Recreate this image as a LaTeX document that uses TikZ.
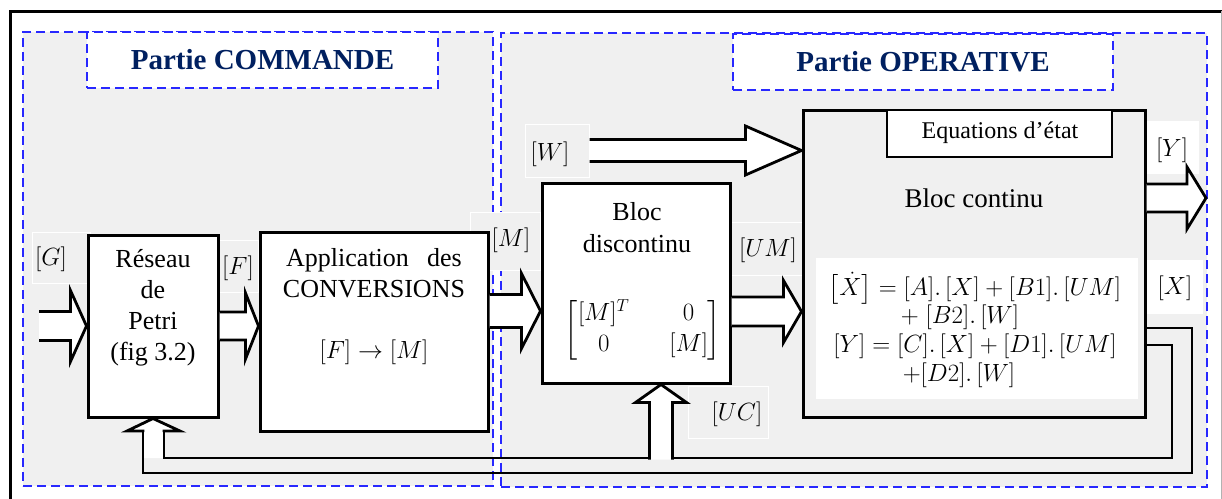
\documentclass[tikz,border=0pt]{standalone}
\usepackage{amsmath}
\usepackage{fontspec}
\setmainfont{Liberation Serif}
\newfontfamily\bodyserif{Liberation Serif}
\usetikzlibrary{calc}

\definecolor{panelgray}{RGB}{240,240,240}
\definecolor{dashblue}{RGB}{40,40,255}
\definecolor{titlenavy}{RGB}{0,32,96}

\tikzset{
  region/.style={draw=dashblue, fill=panelgray, line width=2.8pt, dash pattern=on 9pt off 5pt, inner sep=0pt},
  titlebox/.style={draw=dashblue, fill=white, line width=2.8pt, dash pattern=on 9pt off 5pt, inner sep=0pt},
  titletext/.style={text=titlenavy, font=\bodyserif\fontsize{29}{34}\selectfont\bfseries, inner sep=0pt},
  block/.style={draw=black, fill=white, line width=3pt, inner sep=0pt},
  bodytext/.style={font=\bodyserif\fontsize{26}{31}\selectfont, align=center, inner sep=0pt},
  lab/.style={draw=white, fill=panelgray, line width=1pt, inner sep=0pt},
  labwhite/.style={lab, fill=white},
  labtext/.style={font=\fontsize{27}{31}\selectfont, inner sep=0pt},
  eqtext/.style={font=\fontsize{23.5}{28.7}\selectfont, inner sep=0pt, align=center},
  barrow/.style={draw=black, fill=white, line width=2.8pt, line join=miter},
  fbline/.style={draw=black, line width=2pt, line join=miter},
}

% rightward block arrow: #1 start, #2 tip, #3 half shaft, #4 half head, #5 head length
\newcommand\rblockarrow[5]{%
  \path[barrow] let \p1=(#1), \p2=(#2) in
    (\x1,\y2+#3pt) -- (\x2-#5pt,\y2+#3pt) -- (\x2-#5pt,\y2+#4pt) -- (\x2,\y2)
    -- (\x2-#5pt,\y2-#4pt) -- (\x2-#5pt,\y2-#3pt) -- (\x1,\y2-#3pt);}
% upward block arrow: #1 base point, #2 tip, #3 half shaft, #4 half head, #5 head length
\newcommand\ublockarrow[5]{%
  \path[barrow] let \p1=(#1), \p2=(#2) in
    (\x2-#3pt,\y1) -- (\x2-#3pt,\y2-#5pt) -- (\x2-#4pt,\y2-#5pt) -- (\x2,\y2)
    -- (\x2+#4pt,\y2-#5pt) -- (\x2+#3pt,\y2-#5pt) -- (\x2+#3pt,\y1);}

\begin{document}
\begin{tikzpicture}[x=1pt,y=-1pt]
\useasboundingbox (0,0) rectangle (1222,498);
\fill[white] (0,0) rectangle (1222,498);

% outer frame
\draw[line width=3pt] (10,505) -- (10,11) -- (1225,11);
\draw[gray!60, line width=1pt] (1221,11) -- (1221,505);

% the two parts
\node[region, minimum width=470pt, minimum height=454pt] (cmd) at (258,259) {};
\node[region, minimum width=706pt, minimum height=454pt] (opr) at (854,260) {};
\node[titlebox, minimum width=351pt, minimum height=56pt] (cmdtitle) at (262.5,60) {};
\node[titletext] (cmdtitletext) at (262.5,60) {Partie COMMANDE};
\node[titlebox, minimum width=380pt, minimum height=56pt] (oprtitle) at (923,62) {};
\node[titletext] (oprtitletext) at (923,62) {Partie OPERATIVE};

% signal labels
\node[lab, minimum width=58pt, minimum height=51pt] (lG) at (61,257.5) {};
\node[lab, minimum width=40pt, minimum height=52pt] (lF) at (238,266) {};
\node[lab, minimum width=70pt, minimum height=58pt] (lM) at (505,241) {};
\node[lab, minimum width=64pt, minimum height=53pt] (lW) at (557,150.5) {};
\node[lab, minimum width=71pt, minimum height=53pt] (lUM) at (766.5,248.5) {};
\node[labwhite, minimum width=51pt, minimum height=52pt] (lY) at (1172.5,147) {};
\node[labwhite, minimum width=55pt, minimum height=53pt] (lX) at (1174.5,286.5) {};
\node[lab, minimum width=80pt, minimum height=52pt] (lUC) at (728,412) {};

\node[labtext] (tG) at (51,259) {$[G]$};
\node[labtext] (tF) at (238,268) {$[F]$};
\node[labtext] (tM) at (511,240) {$[M]$};
\node[labtext] (tW) at (550,154) {$[W]$};
\node[labtext] (tUM) at (768,250) {$[UM]$};
\node[labtext] (tY) at (1172,150) {$[Y]$};
\node[labtext] (tX) at (1175,288) {$[X]$};
\node[labtext] (tUC) at (737,414) {$[UC]$};

% blocks
\node[block, minimum width=130pt, minimum height=182pt] (reseau) at (153,326) {};
\node[block, minimum width=228pt, minimum height=199pt] (app) at (374,331.5) {};
\node[block, minimum width=188pt, minimum height=200pt] (bdisc) at (636,283) {};
\node[block, fill=panelgray, minimum width=342pt, minimum height=307pt] (bcont) at (974,263.5) {};
\node[fill=white, inner sep=0pt, minimum width=322pt, minimum height=141pt] (eqarea) at (977,328.5) {};
\node[draw=black, fill=white, line width=1.5pt, inner sep=0pt, minimum width=225pt, minimum height=47pt] (eqetat) at (999.5,133.5) {};

% block texts
\node[bodytext] (tRes) at (153,308) {Réseau\\de\\Petri\\(fig 3.2)};
\node[bodytext] (tApp) at (374,273) {Application\hspace{0.45em} des\\CONVERSIONS};
\node[bodytext, font=\fontsize{27}{31}\selectfont] (tAppM) at (374,352) {$[F]\rightarrow[M]$};
\node[bodytext, font=\bodyserif\fontsize{26}{32}\selectfont] (tBd) at (637,228) {Bloc\\discontinu};
\node[inner sep=0pt, font=\fontsize{25}{31}\selectfont] (tMat) at (643,330)
  {$\setlength\arraycolsep{20pt}\begin{bmatrix}[M]^{T} & 0\\ 0 & [M]\end{bmatrix}$};
\node[bodytext, font=\bodyserif\fontsize{27}{32}\selectfont] (tBc) at (974,198) {Bloc continu};
\node[inner sep=0pt, font=\bodyserif\fontsize{24}{28}\selectfont] (tEqEtat) at (1000,133) {Equations d’état};
\node[eqtext] (eqs) at (975,330) {%
  $\bigl[\dot{X}\bigr] = [A].\,[X] + [B1].\,[UM]$\\
  \mbox{${+}\;[B2].\,[W]$\kern30pt}\\
  $[Y] = [C].\,[X] + [D1].\,[UM]$\\
  \mbox{${+}[D2].\,[W]$\kern32pt}};

% forward block arrows
\coordinate (gin) at (39,326);
\coordinate (yout) at (1206,198);
\rblockarrow{gin}{reseau.west}{14.5}{35.5}{16}
\rblockarrow{reseau.east}{app.west |- reseau.east}{14}{33}{13}
\rblockarrow{app.east}{$(bdisc.west)+(0,28)$}{16.5}{37.5}{19}
\rblockarrow{lW.east}{bcont.west |- lW.east}{11}{24.5}{56}
\rblockarrow{bdisc.east}{$(bcont.west)+(0,48)$}{14.5}{31}{18}
\rblockarrow{bcont.east}{yout}{14}{31}{19}

% feedback of [X] towards the Petri net and the discontinuous block
\coordinate (fbA) at ($(bcont.east)+(0,64.5)$);
\coordinate (fbB) at ($(bcont.east)+(0,81.5)$);
\coordinate (fbOR) at (1192,473);
\coordinate (fbIR) at (1172,458);
\coordinate (fbOL) at (143,473);
\coordinate (fbIL) at (164,458);
\fill[white] (143,458) -- (143,431) -- (127,431) -- (reseau.south) -- (180,431) -- (164,431) -- (164,458) -- cycle;
\draw[fbline] (fbA) -| (fbOR) -- (fbOL) -- (143,431);
\draw[fbline] (fbB) -| (fbIR) -- (fbIL) -- (164,431);
\draw[barrow, fill=none] (143,432) -- (143,431) -- (127,431) -- (reseau.south) -- (180,431) -- (164,431) -- (164,432);

\coordinate (ucbase) at ($(bdisc.south)+(25,75)$);
\ublockarrow{ucbase}{$(bdisc.south)+(25,0)$}{11.5}{25.5}{18}

\end{tikzpicture}
\end{document}
